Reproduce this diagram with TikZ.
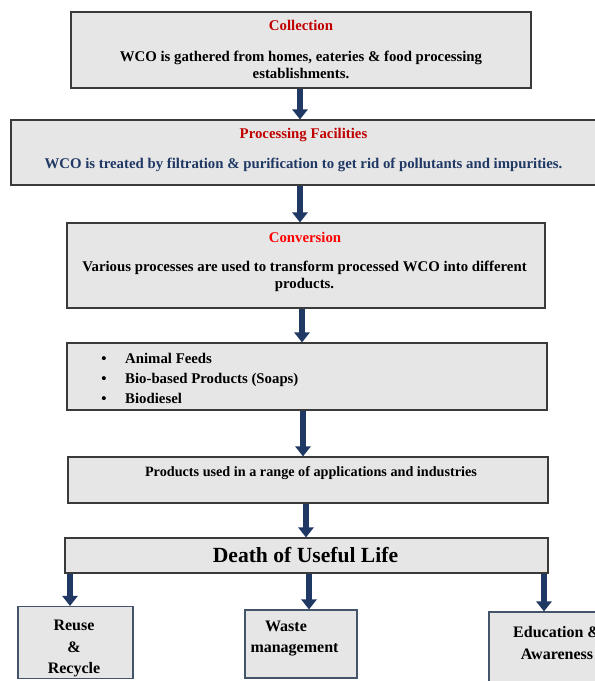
\documentclass[tikz,border=0pt]{standalone}
\usepackage{fontspec}
\setmainfont{Liberation Serif}
\usetikzlibrary{arrows.meta}
\definecolor{boxfill}{HTML}{E7E6E6}
\definecolor{boxline}{HTML}{3A3A3A}
\definecolor{smallline}{HTML}{44546A}
\definecolor{navy}{HTML}{1F3864}
\definecolor{darkred}{HTML}{C00000}
\definecolor{brightred}{HTML}{FF0000}
\tikzset{
  box/.style={draw=boxline, fill=boxfill, line width=1.1pt, inner sep=0pt},
  smallbox/.style={draw=smallline, fill=boxfill, line width=1.1pt, inner sep=0pt},
  txt/.style={font=\bfseries\fontsize{14.8}{17}\selectfont, inner sep=0pt, anchor=base},
  ttl/.style={txt, text=darkred},
  sml/.style={font=\bfseries\fontsize{16}{19}\selectfont, inner sep=0pt, anchor=base},
  arr/.style={draw=navy, line width=6pt, -{Triangle[width=15pt,length=10pt]}}
}
\begin{document}
\begin{tikzpicture}[x=1pt,y=-1pt]
\useasboundingbox (0,0) rectangle (595,681);
% boxes
\node[box, minimum width=460pt, minimum height=76pt] (b1) at (301,50) {};
\node[box, minimum width=585pt, minimum height=65pt] (b2) at (303.5,152.5) {};
\node[box, minimum width=478pt, minimum height=85pt] (b3) at (306,265.5) {};
\node[box, minimum width=480pt, minimum height=67pt] (b4) at (307,376.5) {};
\node[box, minimum width=480pt, minimum height=46pt] (b5) at (308,480) {};
\node[box, minimum width=483pt, minimum height=35pt] (b6) at (306.5,555.5) {};
\node[smallbox, minimum width=115pt, minimum height=72pt] (r1) at (75.5,642.5) {};
\node[smallbox, minimum width=112pt, minimum height=68pt] (r2) at (301,644) {};
\node[smallbox, minimum width=136pt, minimum height=80pt] (r3) at (557,652) {};
% texts
\node[ttl] (t1) at (301,30) {Collection};
\node[txt] (t1a) at (301,61) {WCO is gathered from homes, eateries \& food processing};
\node[txt] (t1b) at (301,78) {establishments.};
\node[ttl] (t2) at (303.5,138) {Processing Facilities};
\node[txt, text=navy] (t2a) at (303.5,168) {WCO is treated by filtration \& purification to get rid of pollutants and impurities.};
\node[ttl, text=brightred] (t3) at (305,242) {Conversion};
\node[txt] (t3a) at (304.5,271) {Various processes are used to transform processed WCO into different};
\node[txt] (t3b) at (304.5,288) {products.};
\node[txt] (l1d) at (104,363) {•};
\node[txt] (l2d) at (104,383) {•};
\node[txt] (l3d) at (104,403) {•};
\node[txt, anchor=base west] (l1) at (125,363) {Animal Feeds};
\node[txt, anchor=base west] (l2) at (125,383) {Bio-based Products (Soaps)};
\node[txt, anchor=base west] (l3) at (125,403) {Biodiesel};
\node[txt, font=\bfseries\fontsize{14.2}{17}\selectfont] (t5) at (311,476) {Products used in a range of applications and industries};
\node[txt, font=\bfseries\fontsize{21.6}{25}\selectfont] (t6) at (305.5,562) {Death of Useful Life};
\node[sml] (s1a) at (74,630) {Reuse};
\node[sml] (s1b) at (74,652) {\&};
\node[sml] (s1c) at (74,673) {Recycle};
\node[sml] (s2a) at (286,631) {Waste};
\node[sml] (s2b) at (294.5,652) {management};
\node[sml] (s3a) at (557,637) {Education \&};
\node[sml] (s3b) at (557,659) {Awareness};
% connectors
\draw[arr] ([xshift=-1pt]b1.south) -- ([xshift=-1pt]b1.south |- b2.north);
\draw[arr] ([xshift=-3.5pt]b2.south) -- ([xshift=-3.5pt]b2.south |- b3.north);
\draw[arr] ([xshift=-4pt]b3.south) -- ([xshift=-4pt]b3.south |- b4.north);
\draw[arr] ([xshift=-4pt]b4.south) -- ([xshift=-4pt]b4.south |- b5.north);
\draw[arr] ([xshift=-2pt]b5.south) -- ([xshift=-2pt]b5.south |- b6.north);
\draw[arr] ([xshift=-5.5pt]r1.north |- b6.south) -- ([xshift=-5.5pt]r1.north);
\draw[arr] ([xshift=8pt]r2.north |- b6.south) -- ([xshift=8pt]r2.north);
\draw[arr] ([xshift=-13pt]r3.north |- b6.south) -- ([xshift=-13pt]r3.north);
\end{tikzpicture}
\end{document}
